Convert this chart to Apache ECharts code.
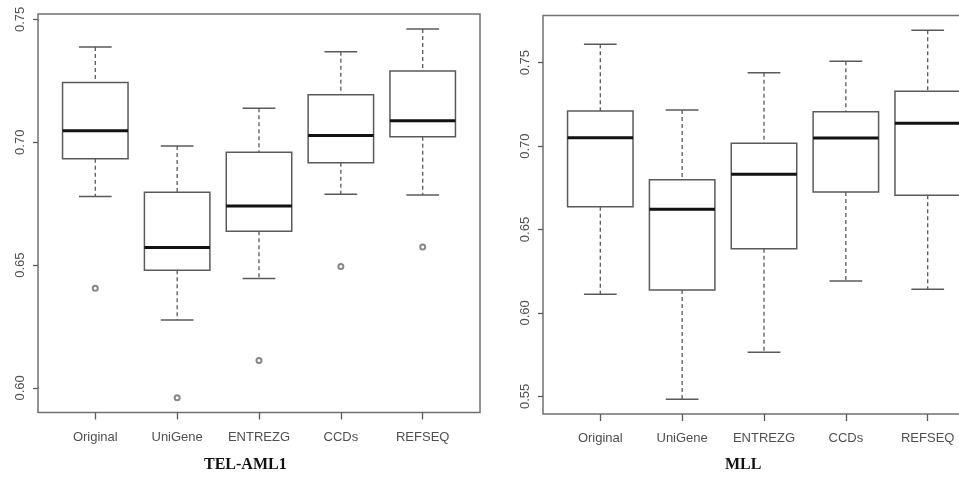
<!DOCTYPE html>
<html>
<head>
<meta charset="utf-8">
<script src="https://cdn.jsdelivr.net/npm/echarts@6/dist/echarts.min.js"></script>
<style>
  html, body { margin: 0; padding: 0; background: #fff; }
  #chart { width: 959px; height: 479px; }
</style>
</head>
<body>
<div id="chart"></div>
<script>
// ---- data ----
const categories = ['Original', 'UniGene', 'ENTREZG', 'CCDs', 'REFSEQ'];
const categoryPositions = [1, 2, 3, 4, 5];

// [lower whisker, Q1, median, Q3, upper whisker]
const telAmlStats = [
  [0.6779, 0.6933, 0.7047, 0.7243, 0.7388],
  [0.6276, 0.6479, 0.6572, 0.6796, 0.6985],
  [0.6445, 0.6638, 0.6741, 0.6959, 0.7138],
  [0.6788, 0.6917, 0.7027, 0.7193, 0.7368],
  [0.6785, 0.7022, 0.7088, 0.7290, 0.7461]
];
const telAmlOutliers = [0.6406, 0.5960, 0.6112, 0.6494, 0.6574];

const mllStats = [
  [0.6112, 0.6637, 0.7050, 0.7210, 0.7610],
  [0.5482, 0.6137, 0.6621, 0.6799, 0.7216],
  [0.5764, 0.6385, 0.6831, 0.7017, 0.7440],
  [0.6191, 0.6725, 0.7048, 0.7206, 0.7508],
  [0.6142, 0.6705, 0.7137, 0.7329, 0.7694]
];

const telAmlTicks = [0.60, 0.65, 0.70, 0.75];
const mllTicks = [0.55, 0.60, 0.65, 0.70, 0.75];
const panelTitles = ['TEL-AML1', 'MLL'];

// ---- build ----
const boxData = stats => stats.map((s, i) => [categoryPositions[i]].concat(s));
const outlierData = vals => vals.map((v, i) => [categoryPositions[i], v]);

const lineColor = '#5a5a5a';
const frameColor = '#707070';

function renderBox(params, api) {
  const x = api.value(0);
  const lo = api.coord([x, api.value(1)]);
  const q1 = api.coord([x, api.value(2)]);
  const med = api.coord([x, api.value(3)]);
  const q3 = api.coord([x, api.value(4)]);
  const hi = api.coord([x, api.value(5)]);
  const cx = lo[0];
  const half = api.size([0.4, 0])[0];
  const cap = api.size([0.2, 0])[0];
  const dashStyle = { stroke: lineColor, lineWidth: 1.3, lineDash: [4, 3] };
  const solid = { stroke: lineColor, lineWidth: 1.5 };
  return {
    type: 'group',
    children: [
      { type: 'line', shape: { x1: cx, y1: hi[1], x2: cx, y2: q3[1] }, style: dashStyle },
      { type: 'line', shape: { x1: cx, y1: q1[1], x2: cx, y2: lo[1] }, style: dashStyle },
      { type: 'line', shape: { x1: cx - cap, y1: hi[1], x2: cx + cap, y2: hi[1] }, style: solid },
      { type: 'line', shape: { x1: cx - cap, y1: lo[1], x2: cx + cap, y2: lo[1] }, style: solid },
      { type: 'rect', shape: { x: cx - half, y: q3[1], width: 2 * half, height: q1[1] - q3[1] },
        style: { fill: '#ffffff', stroke: lineColor, lineWidth: 1.5 } },
      { type: 'line', shape: { x1: cx - half, y1: med[1], x2: cx + half, y2: med[1] },
        style: { stroke: '#111111', lineWidth: 3 } }
    ]
  };
}

function xAxisCfg(gridIndex) {
  return {
    type: 'value', gridIndex, min: 0.3, max: 5.7,
    axisLine: { show: false },
    splitLine: { show: false },
    axisTick: { show: true, customValues: categoryPositions, length: 7,
      lineStyle: { color: lineColor, width: 1.3 } },
    axisLabel: { show: true, customValues: categoryPositions, margin: 18,
      fontFamily: 'Liberation Sans', fontSize: 13, color: '#505050',
      formatter: v => categories[Math.round(v) - 1] || '' }
  };
}
function yAxisCfg(gridIndex, min, max, ticks) {
  return {
    type: 'value', gridIndex, min, max,
    axisLine: { show: false },
    splitLine: { show: false },
    axisTick: { show: true, customValues: ticks, length: 5,
      lineStyle: { color: lineColor, width: 1.3 } },
    axisLabel: { show: true, customValues: ticks, rotate: 90, margin: 11,
      fontFamily: 'Liberation Sans', fontSize: 13, color: '#505050',
      formatter: v => v.toFixed(2) }
  };
}

const gridBase = { show: true, borderColor: frameColor, borderWidth: 1.5, backgroundColor: 'transparent',
  containLabel: false, outerBoundsMode: 'none' };

const chart = echarts.init(document.getElementById('chart'), null, { renderer: 'canvas' });
chart.setOption({
  animation: false,
  backgroundColor: '#ffffff',
  grid: [
    Object.assign({ left: 38, top: 14, width: 442, height: 398.5 }, gridBase),
    Object.assign({ left: 543, top: 15.5, width: 442, height: 398.5 }, gridBase)
  ],
  xAxis: [xAxisCfg(0), xAxisCfg(1)],
  yAxis: [
    yAxisCfg(0, 0.5900, 0.7522, telAmlTicks),
    yAxisCfg(1, 0.5394, 0.7783, mllTicks)
  ],
  graphic: [
    { type: 'text', left: 247 - 43, top: 457, style: { text: panelTitles[0], font: 'bold 16px "Liberation Serif"', fill: '#111' } },
    { type: 'text', left: 744 - 19, top: 457, style: { text: panelTitles[1], font: 'bold 16px "Liberation Serif"', fill: '#111' } }
  ],
  series: [
    { type: 'custom', xAxisIndex: 0, yAxisIndex: 0, renderItem: renderBox,
      encode: { x: 0, y: [1, 2, 3, 4, 5] }, data: boxData(telAmlStats), clip: false },
    { type: 'scatter', xAxisIndex: 0, yAxisIndex: 0, symbol: 'emptyCircle', symbolSize: 5,
      itemStyle: { color: '#6a6a6a', borderColor: '#6a6a6a', borderWidth: 1 },
      data: outlierData(telAmlOutliers), z: 5 },
    { type: 'custom', xAxisIndex: 1, yAxisIndex: 1, renderItem: renderBox,
      encode: { x: 0, y: [1, 2, 3, 4, 5] }, data: boxData(mllStats), clip: false }
  ]
});
</script>
</body>
</html>
